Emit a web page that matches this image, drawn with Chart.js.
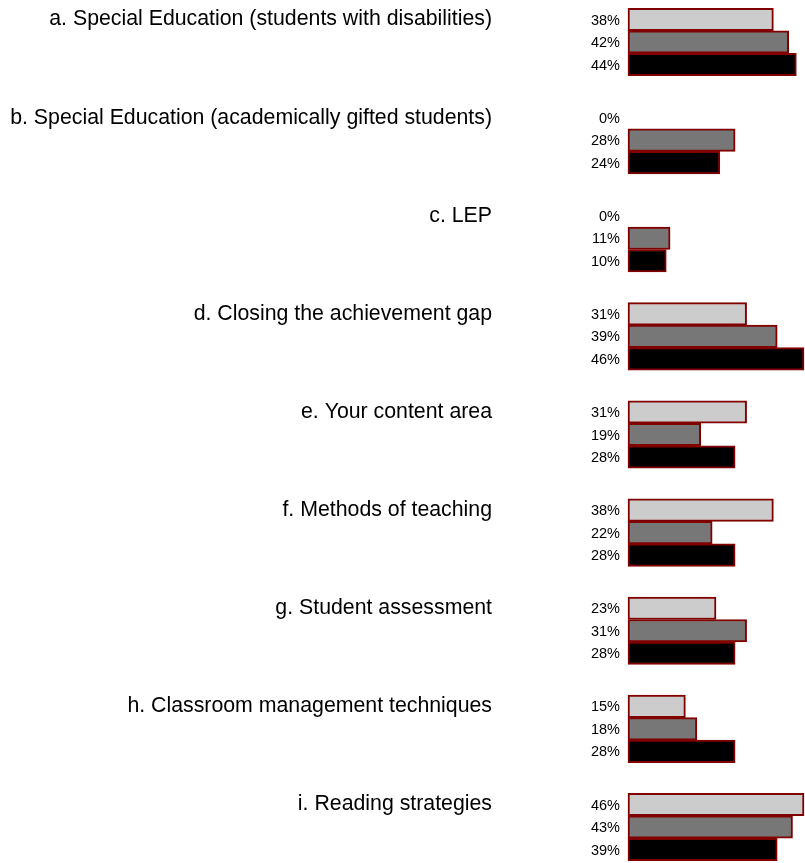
<!DOCTYPE html>
<html>
<head>
<meta charset="utf-8">
<script src="https://cdn.jsdelivr.net/npm/chart.js@4/dist/chart.umd.min.js"></script>
<style>
  html, body { margin: 0; padding: 0; background: #fff; }
  #wrap { width: 805px; height: 863px; position: relative; }
</style>
</head>
<body>
<div id="wrap"><canvas id="myChart"></canvas></div>
<script>
const categories = [
  'a. Special Education (students with disabilities)',
  'b. Special Education (academically gifted students)',
  'c. LEP',
  'd. Closing the achievement gap',
  'e. Your content area',
  'f. Methods of teaching',
  'g. Student assessment',
  'h. Classroom management techniques',
  'i. Reading strategies'
];
const series1 = [38, 0, 0, 31, 31, 38, 23, 15, 46];
const series2 = [42, 28, 11, 39, 19, 22, 31, 18, 43];
const series3 = [44, 24, 10, 46, 28, 28, 28, 28, 39];

(() => {
  'use strict'

  const font = '"Liberation Sans", Arial, sans-serif'

  // labels drawn beside the bars
  const labelPlugin = {
    id: 'labels',
    afterDatasetsDraw(chart) {
      const ctx = chart.ctx
      ctx.save()
      ctx.fillStyle = '#000'
      ctx.textBaseline = 'middle'
      ctx.textAlign = 'right'
      chart.data.datasets.forEach((ds, i) => {
        const meta = chart.getDatasetMeta(i)
        meta.data.forEach((bar, j) => {
          ctx.font = '14.5px ' + font
          ctx.fillText(ds.data[j] + '%', 620, bar.y + 1)
          if (i === 0) {
            ctx.font = '21.3px ' + font
            ctx.fillText(categories[j], 492, bar.y)
          }
        })
      })
      ctx.restore()
    }
  }

  const mk = (data, color) => ({
    data: data,
    backgroundColor: c => (c.raw === 0 ? 'rgba(0,0,0,0)' : color),
    borderColor: c => (c.raw === 0 ? 'rgba(0,0,0,0)' : '#800000'),
    borderWidth: c => (c.raw === 0 ? 0 : 2),
    borderSkipped: false,
    clip: false
  })

  new Chart(document.getElementById('myChart'), {
    type: 'bar',
    data: {
      labels: categories,
      datasets: [
        mk(series1, '#cccccc'),
        mk(series2, '#777777'),
        mk(series3, '#000000')
      ]
    },
    options: {
      indexAxis: 'y',
      responsive: true,
      maintainAspectRatio: false,
      animation: false,
      barThickness: 22.5,
      layout: { padding: { left: 628, right: 1, top: 42, bottom: 36 } },
      scales: {
        x: { display: false, min: 0, max: 46, grid: { display: false } },
        y: { display: false, offset: false, grid: { display: false } }
      },
      plugins: {
        legend: { display: false },
        tooltip: { enabled: false }
      }
    },
    plugins: [labelPlugin]
  })
})()
</script>
</body>
</html>
